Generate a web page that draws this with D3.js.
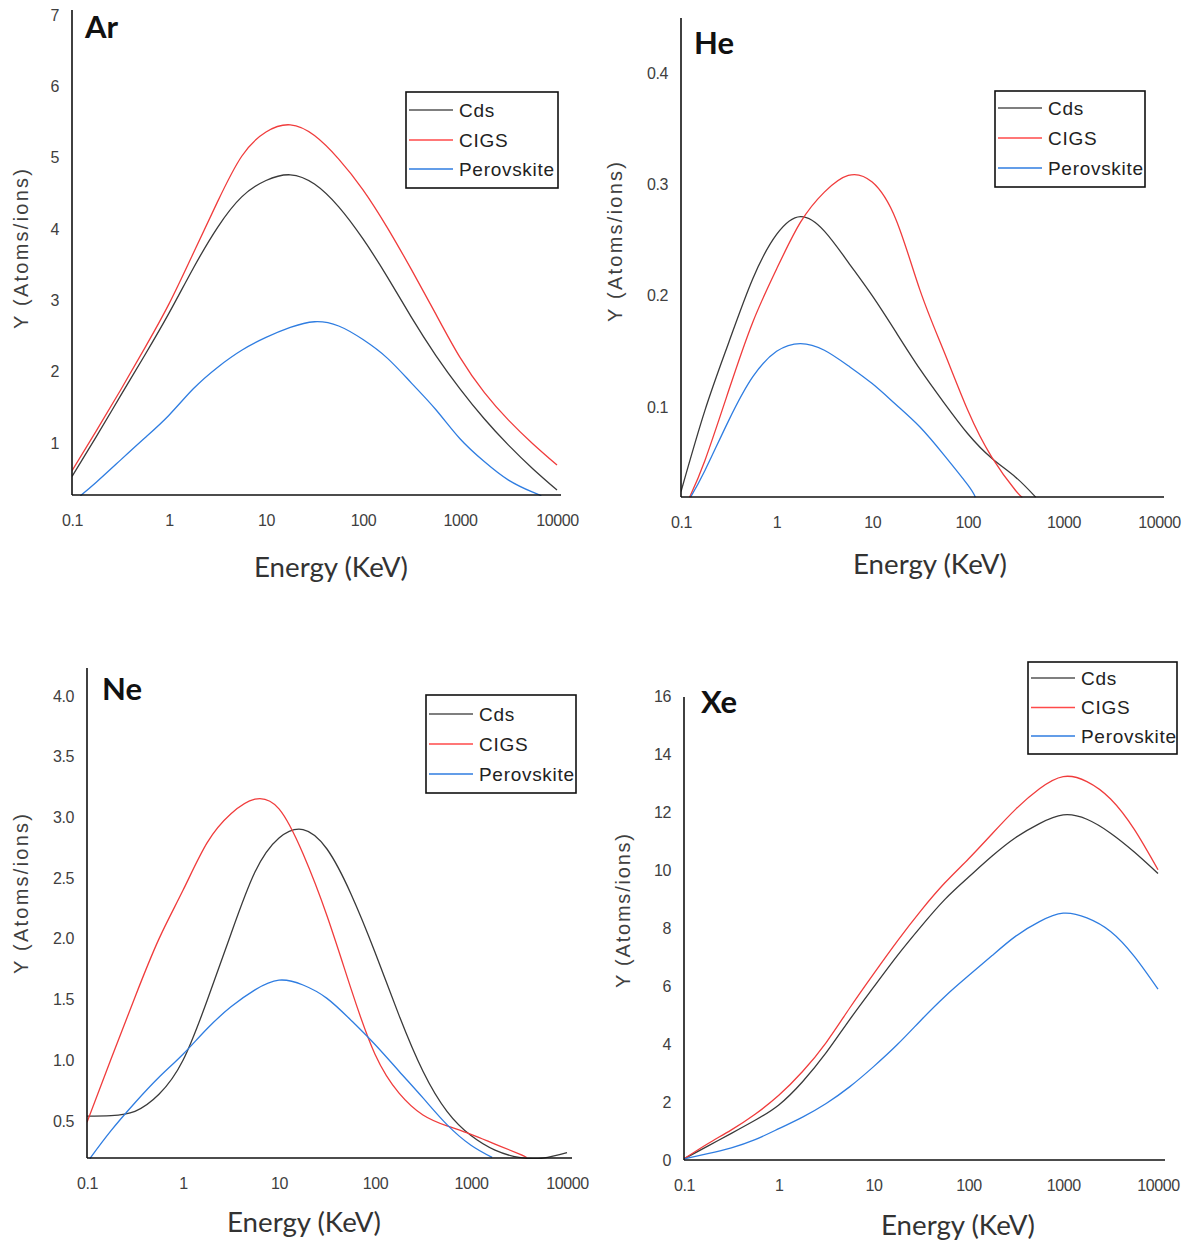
<!DOCTYPE html>
<html><head><meta charset="utf-8">
<script src="https://cdn.jsdelivr.net/npm/d3@7"></script>
<style>body{margin:0;background:#fff}</style>
</head><body>
<svg id="c" width="1187" height="1245"></svg>
<script>
// ---------- DATA ----------
const seriesNames = ["Cds", "CIGS", "Perovskite"];
const energyTicks = [0.1, 1, 10, 100, 1000, 10000];
const energyTickLabels = ["0.1", "1", "10", "100", "1000", "10000"];
// energies (KeV) at which the curves were read
const gridE = [0.1, 0.178, 0.316, 0.562, 1, 1.78, 3.16, 5.62, 10, 17.8, 31.6, 56.2, 100, 178, 316, 562, 1000, 1778, 3162, 5623, 10000];

// Ar
const arYTicks = [1, 2, 3, 4, 5, 6, 7];
const arYLabels = ["1", "2", "3", "4", "5", "6", "7"];
const arCdsY  = [0.53, 1.09, 1.66, 2.23, 2.82, 3.45, 4.02, 4.45, 4.68, 4.76, 4.63, 4.31, 3.86, 3.33, 2.76, 2.23, 1.76, 1.34, 0.97, 0.64, 0.34];
const arCigsY = [0.61, 1.17, 1.74, 2.33, 2.95, 3.66, 4.38, 5.02, 5.36, 5.46, 5.31, 4.98, 4.55, 4.02, 3.43, 2.81, 2.20, 1.71, 1.32, 0.99, 0.69];
const arPeroE = [0.122, 0.178, 0.316, 0.562, 1, 1.78, 3.16, 5.62, 10, 17.8, 31.6, 56.2, 100, 178, 316, 562, 1000, 1778, 3162, 5623, 6900];
const arPeroY = [0.26, 0.45, 0.76, 1.07, 1.39, 1.76, 2.06, 2.30, 2.48, 2.62, 2.70, 2.64, 2.45, 2.19, 1.84, 1.47, 1.06, 0.74, 0.48, 0.31, 0.26];

// He
const heYTicks = [0.1, 0.2, 0.3, 0.4];
const heYLabels = ["0.1", "0.2", "0.3", "0.4"];
const heCdsE  = [0.1, 0.178, 0.316, 0.562, 1, 1.78, 3.16, 5.62, 10, 17.8, 31.6, 56.2, 100, 178, 316, 513];
const heCdsY  = [0.024, 0.097, 0.158, 0.215, 0.255, 0.271, 0.258, 0.230, 0.200, 0.167, 0.134, 0.104, 0.076, 0.054, 0.037, 0.019];
const heCigsE = [0.123, 0.178, 0.316, 0.562, 1, 1.78, 3.16, 5.62, 10, 17.8, 31.6, 56.2, 100, 178, 316, 372];
const heCigsY = [0.019, 0.052, 0.115, 0.176, 0.224, 0.266, 0.293, 0.308, 0.302, 0.268, 0.205, 0.150, 0.097, 0.055, 0.025, 0.019];
const hePeroE = [0.126, 0.178, 0.316, 0.562, 1, 1.78, 3.16, 5.62, 10, 17.8, 31.6, 56.2, 100, 120];
const hePeroY = [0.019, 0.043, 0.088, 0.127, 0.150, 0.157, 0.151, 0.137, 0.121, 0.102, 0.082, 0.057, 0.030, 0.019];

// Ne
const neYTicks = [0.5, 1.0, 1.5, 2.0, 2.5, 3.0, 3.5, 4.0];
const neYLabels = ["0.5", "1.0", "1.5", "2.0", "2.5", "3.0", "3.5", "4.0"];
const neCdsY  = [0.54, 0.545, 0.58, 0.72, 1.0, 1.49, 2.04, 2.55, 2.83, 2.90, 2.74, 2.37, 1.89, 1.37, 0.91, 0.58, 0.38, 0.26, 0.20, 0.195, 0.24];
const neCigsE = [0.1, 0.178, 0.316, 0.562, 1, 1.78, 3.16, 5.62, 10, 17.8, 31.6, 56.2, 100, 178, 316, 562, 1000, 1778, 3162, 3800];
const neCigsY = [0.49, 1.01, 1.52, 2.00, 2.40, 2.79, 3.03, 3.15, 3.07, 2.70, 2.19, 1.59, 1.05, 0.73, 0.55, 0.46, 0.39, 0.31, 0.23, 0.20];
const nePeroE = [0.107, 0.178, 0.316, 0.562, 1, 1.78, 3.16, 5.62, 10, 17.8, 31.6, 56.2, 100, 178, 316, 562, 1000, 1660];
const nePeroY = [0.19, 0.42, 0.65, 0.86, 1.05, 1.26, 1.44, 1.58, 1.66, 1.62, 1.51, 1.33, 1.13, 0.91, 0.69, 0.47, 0.30, 0.20];

// Xe
const xeYTicks = [0, 2, 4, 6, 8, 10, 12, 14, 16];
const xeYLabels = ["0", "2", "4", "6", "8", "10", "12", "14", "16"];
const xeCdsY  = [0.04, 0.48, 0.92, 1.37, 1.90, 2.70, 3.70, 4.85, 5.96, 7.05, 8.05, 8.98, 9.75, 10.48, 11.12, 11.60, 11.90, 11.75, 11.27, 10.62, 9.88];
const xeCigsY = [0.04, 0.56, 1.04, 1.58, 2.23, 3.05, 4.05, 5.25, 6.42, 7.55, 8.60, 9.55, 10.38, 11.25, 12.10, 12.80, 13.22, 13.05, 12.45, 11.40, 10.01];
const xePeroY = [0.04, 0.22, 0.42, 0.70, 1.08, 1.48, 1.95, 2.53, 3.22, 3.98, 4.82, 5.63, 6.35, 7.05, 7.72, 8.22, 8.51, 8.35, 7.88, 7.02, 5.89];

// ---------- DRAW ----------
const colors = {Cds: "#3a3a3a", CIGS: "#f03c3c", Perovskite: "#2f7de1"};
const legendColors = {Cds: "#555555", CIGS: "#ff4a4a", Perovskite: "#2f7de1"};
const zip = (E, Y) => E.map((e, i) => ({e, y: Y[i]}));

const panels = [
  {name: "Ar", yTicks: arYTicks, yLabels: arYLabels,
   series: [zip(gridE, arCdsY), zip(gridE, arCigsY), zip(arPeroE, arPeroY)],
   x0: 72, x1: 557, xEnd: 561, axisY: 495, topY: 10, yA: [1, 443], yB: [7, 15],
   title: [85, 38], ytitle: [21, 249, 160], xtitle: [331, 577],
   legend: {x: 406, y: 92, w: 152, h: 96, rows: [110, 140, 169]}},
  {name: "He", yTicks: heYTicks, yLabels: heYLabels,
   series: [zip(heCdsE, heCdsY), zip(heCigsE, heCigsY), zip(hePeroE, hePeroY)],
   x0: 681, x1: 1159, xEnd: 1164, axisY: 497, topY: 18, yA: [0.1, 407], yB: [0.4, 73],
   title: [694, 54], ytitle: [615, 242, 160], xtitle: [930, 574],
   legend: {x: 995, y: 91, w: 150, h: 96, rows: [108, 138, 168]}},
  {name: "Ne", yTicks: neYTicks, yLabels: neYLabels,
   series: [zip(gridE, neCdsY), zip(neCigsE, neCigsY), zip(nePeroE, nePeroY)],
   x0: 87, x1: 567, xEnd: 572, axisY: 1158, topY: 668, yA: [0.5, 1121], yB: [4.0, 696],
   title: [102, 700], ytitle: [21, 894, 160], xtitle: [304, 1232],
   legend: {x: 426, y: 695, w: 150, h: 98, rows: [714, 744, 774]}},
  {name: "Xe", yTicks: xeYTicks, yLabels: xeYLabels,
   series: [zip(gridE, xeCdsY), zip(gridE, xeCigsY), zip(gridE, xePeroY)],
   x0: 684, x1: 1158, xEnd: 1165, axisY: 1160, topY: 697, yA: [0, 1160], yB: [16, 696],
   title: [701, 713], ytitle: [623, 911, 154], xtitle: [958, 1235],
   legend: {x: 1028, y: 662, w: 149, h: 92, rows: [678, 707.5, 736]}}
];

const svg = d3.select("#c");
const defs = svg.append("defs");

panels.forEach((p, pi) => {
  const x = d3.scaleLog().domain([energyTicks[0], energyTicks[energyTicks.length - 1]]).range([p.x0, p.x1]);
  const y = d3.scaleLinear().domain([p.yA[0], p.yB[0]]).range([p.yA[1], p.yB[1]]);
  const g = svg.append("g");

  defs.append("clipPath").attr("id", "clip" + pi).append("rect")
    .attr("x", p.x0).attr("y", p.topY).attr("width", p.xEnd - p.x0).attr("height", p.axisY - p.topY + 1);

  // curves
  const line = d3.line().x(d => x(d.e)).y(d => y(d.y)).curve(d3.curveNatural);
  p.series.forEach((s, i) => {
    g.append("path").datum(s).attr("d", line)
      .attr("fill", "none").attr("stroke", colors[seriesNames[i]])
      .attr("stroke-width", 1.3).attr("clip-path", `url(#clip${pi})`);
  });

  // x axis
  const xa = g.append("g").attr("transform", `translate(0,${p.axisY})`)
    .call(d3.axisBottom(x).tickValues(energyTicks).tickFormat((d, i) => energyTickLabels[i]).tickSize(0).tickPadding(20));
  xa.select(".domain").remove();
  xa.selectAll("text").attr("font-family", "Liberation Sans, Arial, sans-serif").attr("font-size", 16)
    .attr("letter-spacing", "-0.4").attr("fill", "#404040");

  // y axis
  const ya = g.append("g").attr("transform", `translate(${p.x0},0)`)
    .call(d3.axisLeft(y).tickValues(p.yTicks).tickFormat((d, i) => p.yLabels[i]).tickSize(0).tickPadding(13));
  ya.select(".domain").remove();
  ya.selectAll("text").attr("font-family", "Liberation Sans, Arial, sans-serif").attr("font-size", 16)
    .attr("letter-spacing", "-0.4").attr("fill", "#404040");

  // axis lines
  g.append("line").attr("x1", p.x0).attr("x2", p.xEnd).attr("y1", p.axisY).attr("y2", p.axisY)
    .attr("stroke", "#111").attr("stroke-width", 1.6);
  g.append("line").attr("x1", p.x0).attr("x2", p.x0).attr("y1", p.topY).attr("y2", p.axisY)
    .attr("stroke", "#111").attr("stroke-width", 1.6);

  // panel title
  g.append("text").attr("x", p.title[0]).attr("y", p.title[1]).text(p.name)
    .attr("font-family", "Lato, sans-serif").attr("font-weight", 700).attr("font-size", 31).attr("fill", "#111");

  // y title
  g.append("text").attr("transform", `translate(${p.ytitle[0]},${p.ytitle[1]}) rotate(-90)`)
    .attr("text-anchor", "middle").attr("dy", "0.35em")
    .attr("textLength", p.ytitle[2]).attr("lengthAdjust", "spacing")
    .attr("font-family", "Liberation Sans, Arial, sans-serif").attr("font-size", 20).attr("fill", "#404040")
    .text("Y  (Atoms/ions)");

  // x title
  g.append("text").attr("x", p.xtitle[0]).attr("y", p.xtitle[1]).attr("text-anchor", "middle")
    .attr("textLength", 154).attr("lengthAdjust", "spacingAndGlyphs")
    .attr("font-family", "Lato, sans-serif").attr("font-size", 27).attr("fill", "#333")
    .text("Energy (KeV)");

  // legend
  const L = p.legend;
  const lg = g.append("g");
  lg.append("rect").attr("x", L.x).attr("y", L.y).attr("width", L.w).attr("height", L.h)
    .attr("fill", "#fff").attr("stroke", "#111").attr("stroke-width", 1.6);
  seriesNames.forEach((n, i) => {
    lg.append("line").attr("x1", L.x + 3).attr("x2", L.x + 47).attr("y1", L.rows[i]).attr("y2", L.rows[i])
      .attr("stroke", legendColors[n]).attr("stroke-width", 1.4);
    lg.append("text").attr("x", L.x + 53).attr("y", L.rows[i]).attr("dy", "0.35em").text(n)
      .attr("font-family", "Liberation Sans, Arial, sans-serif").attr("font-size", 19)
      .attr("letter-spacing", "0.7").attr("fill", "#222");
  });
});
</script>
</body></html>
